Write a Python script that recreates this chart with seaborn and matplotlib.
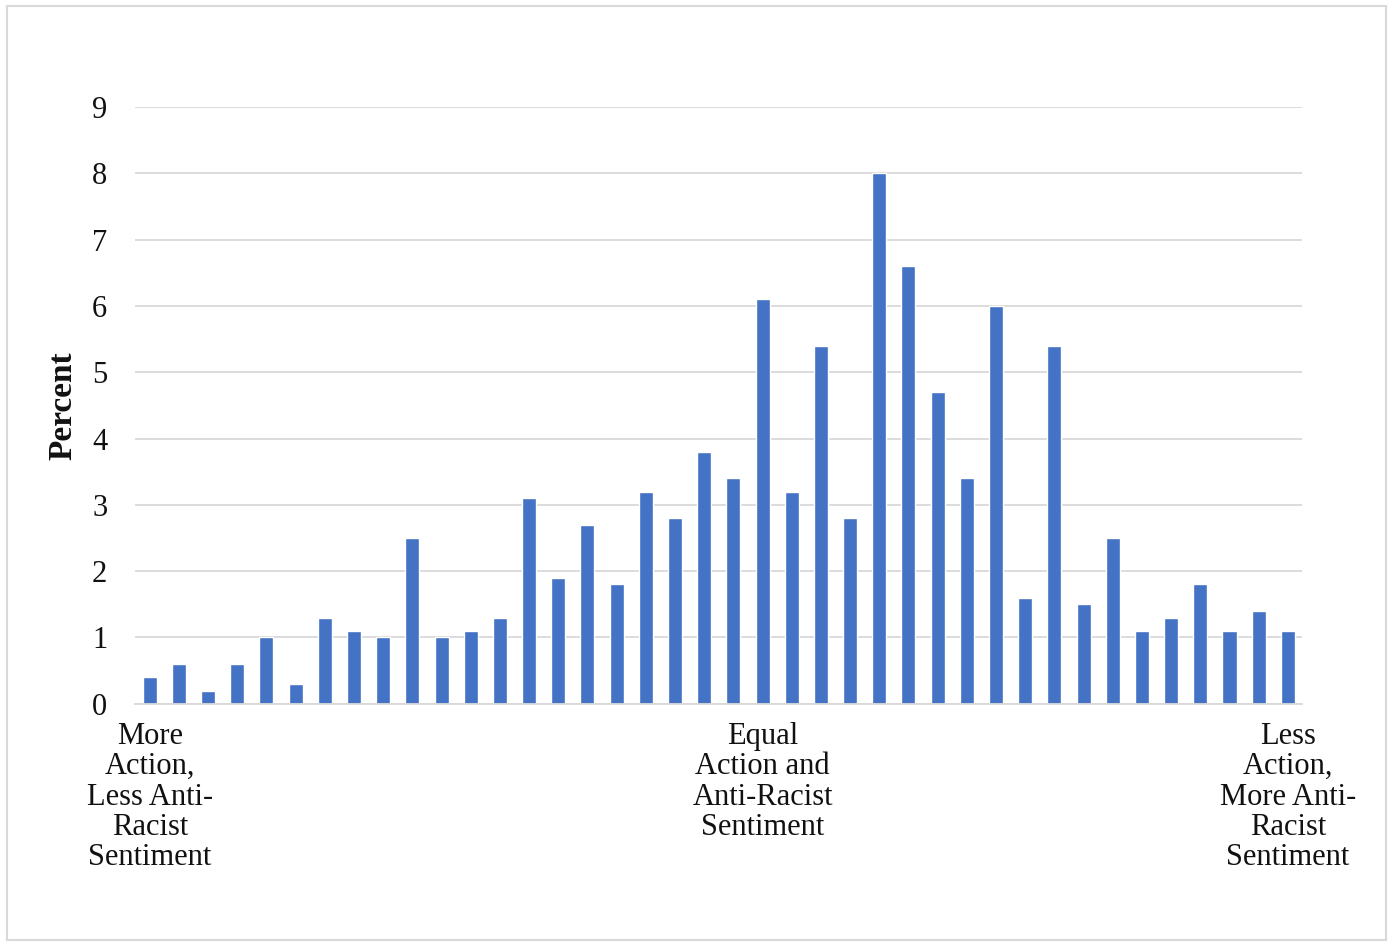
import pandas as pd
import matplotlib.pyplot as plt
import seaborn as sns
from matplotlib.patches import Rectangle

# Bar values (percent), left to right
percent = [0.4, 0.6, 0.2, 0.6, 1.0, 0.3, 1.3, 1.1, 1.0, 2.5,
           1.0, 1.1, 1.3, 3.1, 1.9, 2.7, 1.8, 3.2, 2.8, 3.8,
           3.4, 6.1, 3.2, 5.4, 2.8, 8.0, 6.6, 4.7, 3.4, 6.0,
           1.6, 5.4, 1.5, 2.5, 1.1, 1.3, 1.8, 1.1, 1.4, 1.1]
position = list(range(1, len(percent) + 1))

# Labelled positions on the x axis
label_pos = [1, 22, 40]
label_text = ["More\nAction,\nLess Anti-\nRacist\nSentiment",
              "Equal\nAction and\nAnti-Racist\nSentiment",
              "Less\nAction,\nMore Anti-\nRacist\nSentiment"]
yticks = list(range(0, 10))

df = pd.DataFrame({"position": position, "percent": percent})

sns.set_style("white")
plt.rcParams['font.family'] = ['Liberation Serif', 'DejaVu Serif']

fig = plt.figure(figsize=(13.93, 9.46), dpi=100)
ax = fig.add_axes([0.097, 0.256, 0.838, 0.631])

sns.barplot(data=df, x="position", y="percent", color="#4472C4",
            width=0.48, saturation=1, ax=ax)

ax.set_ylim(0, 9)
ax.set_xlim(-0.5, len(percent) - 0.5)
ax.set_yticks(yticks)
ax.set_yticklabels([str(t) for t in yticks], fontsize=22, color="#111111")
ax.yaxis.grid(True, color="#d9d9d9", linewidth=1.3)
ax.set_axisbelow(True)

ax.set_xticks([p - 1 for p in label_pos])
ax.set_xticklabels(label_text, fontsize=22, linespacing=1.06, ha="center",
                   color="#111111")
ax.tick_params(axis="both", length=0)
ax.tick_params(axis="x", pad=13)
ax.tick_params(axis="y", pad=20)

ax.set_xlabel("")
ax.set_ylabel("Percent", fontsize=24, fontweight="bold", labelpad=10,
              color="#111111")

for s in ["top", "right", "left"]:
    ax.spines[s].set_visible(False)
ax.spines["bottom"].set_color("#d9d9d9")
ax.spines["bottom"].set_linewidth(1.3)

# light frame around the whole chart
fig.patches.append(Rectangle((0.005, 0.006), 0.99, 0.988, transform=fig.transFigure,
                             fill=False, edgecolor="#d9d9d9", linewidth=1.5))

plt.savefig("out.png", dpi=100)
